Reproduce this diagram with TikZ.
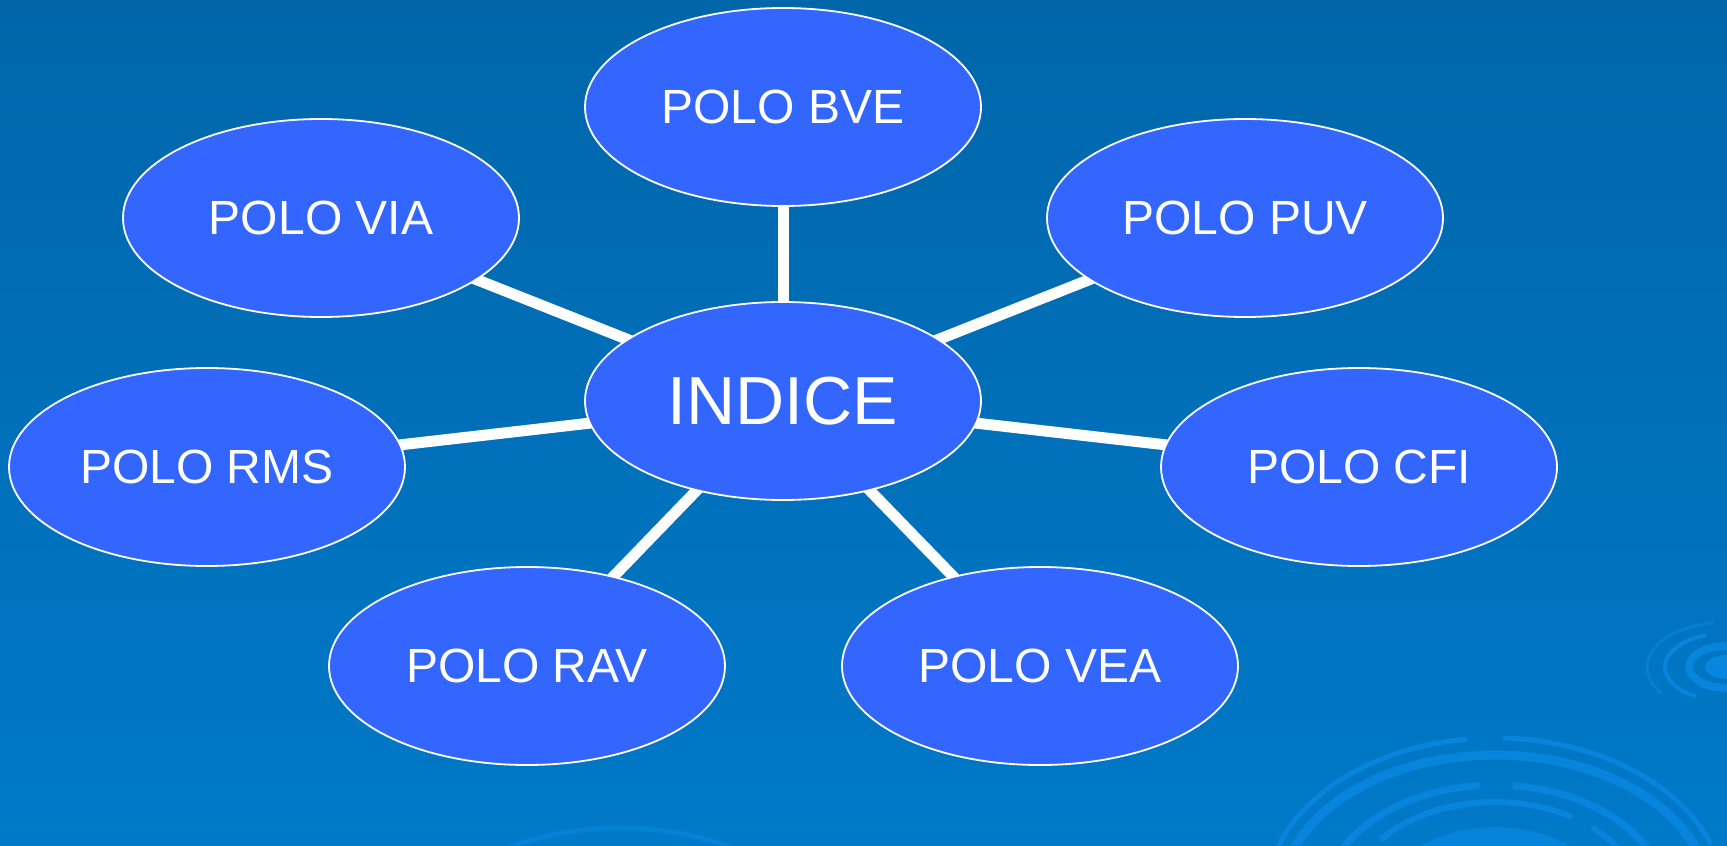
\documentclass[tikz,border=0pt]{standalone}
\usepackage{fontspec}
\setmainfont{Liberation Sans}
\usetikzlibrary{shapes.geometric}
\definecolor{bgtop}{HTML}{0066AA}
\definecolor{bgbot}{HTML}{0079C8}
\definecolor{ellfill}{HTML}{3366FF}
\definecolor{swirl}{HTML}{0A8AE6}
\pgfdeclarelayer{bglayer}
\pgfdeclarelayer{spokelayer}
\pgfsetlayers{bglayer,spokelayer,main}
\tikzset{
  polo/.style={ellipse, draw=white, line width=0.9pt, fill=ellfill, minimum width=198pt, minimum height=99pt, inner sep=0pt, text=white, font=\fontsize{24}{28}\selectfont},
  hub/.style={polo, font=\fontsize{34}{40}\selectfont},
  spoke/.style={draw=white, line width=5.5pt},
  sw/.style={draw=swirl, line width=3pt, opacity=0.75}
}
\begin{document}
\begin{tikzpicture}[x=0.5pt,y=-0.5pt]
\begin{pgfonlayer}{bglayer}
\shade[top color=bgtop, bottom color=bgbot] (0,0) rectangle (1727,845);
\begin{scope}
\clip (0,0) rectangle (1727,845);
% big swirl, bottom right (centre 1495,900); y axis points down, so upward angles are negative
\fill[swirl, opacity=0.6] (1495,900) ellipse [x radius=110, y radius=73];
\draw[sw, line width=2.5pt] (1495,900) ++(-180:230 and 162) arc[start angle=-180, end angle=-97, x radius=230, y radius=162];
\draw[sw, line width=2.5pt] (1495,900) ++(-88:230 and 162) arc[start angle=-88, end angle=-20, x radius=230, y radius=162];
\draw[sw, line width=4.5pt] (1495,900) ++(-180:215 and 145) arc[start angle=-180, end angle=0, x radius=215, y radius=145];
\draw[sw, line width=3.5pt] (1495,900) ++(-158:170 and 115) arc[start angle=-158, end angle=-95, x radius=170, y radius=115];
\draw[sw, line width=3.5pt] (1495,900) ++(-84:170 and 115) arc[start angle=-84, end angle=-25, x radius=170, y radius=115];
\draw[sw, line width=3pt] (1495,900) ++(-172:145 and 98) arc[start angle=-172, end angle=-152, x radius=145, y radius=98];
\draw[sw, line width=3pt] (1495,900) ++(-142:145 and 98) arc[start angle=-142, end angle=-58, x radius=145, y radius=98];
\draw[sw, line width=3pt] (1495,900) ++(-48:145 and 98) arc[start angle=-48, end angle=-10, x radius=145, y radius=98];
% small swirl, right edge
\fill[swirl, opacity=0.8] (1727,667) ellipse [x radius=22, y radius=12];
\draw[sw, line width=4pt] (1727,667) ellipse [x radius=38, y radius=21];
\draw[sw, line width=2pt] (1727,667) ++(-110:62 and 34) arc[start angle=-110, end angle=-240, x radius=62, y radius=34];
\draw[sw, line width=1.5pt, opacity=0.5] (1727,667) ++(-100:80 and 45) arc[start angle=-100, end angle=-215, x radius=80, y radius=45];
% faint arc, bottom middle
\draw[sw, line width=2.5pt, opacity=0.5] (620,900) ++(-150:160 and 72) arc[start angle=-150, end angle=-45, x radius=160, y radius=72];
\end{scope}
\end{pgfonlayer}
\useasboundingbox (0,0) rectangle (1727,845);
% nodes
\node[hub] (indice) at (783,401) {INDICE};
\node[polo] (bve) at (783,107) {POLO BVE};
\node[polo] (via) at (321,218) {POLO VIA};
\node[polo] (puv) at (1245,218) {POLO PUV};
\node[polo] (rms) at (207,467) {POLO RMS};
\node[polo] (cfi) at (1359,467) {POLO CFI};
\node[polo] (rav) at (527,666) {POLO RAV};
\node[polo] (vea) at (1040,666) {POLO VEA};
% spokes behind the ellipses
\begin{pgfonlayer}{spokelayer}
\foreach \n in {bve,via,puv,rms,cfi,rav,vea}{
  \draw[spoke] (indice.center) -- (\n.center);
}
\end{pgfonlayer}
\end{tikzpicture}
\end{document}
